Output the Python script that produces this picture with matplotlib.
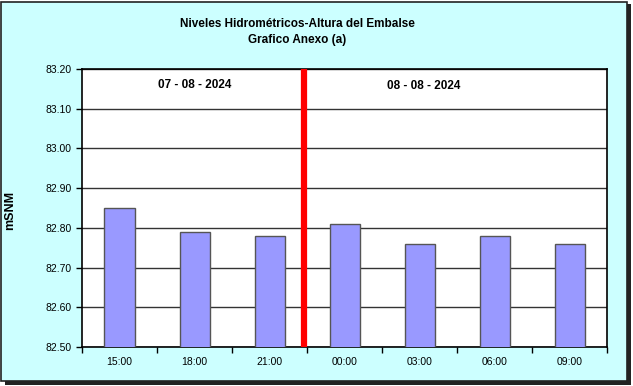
import numpy as np
import matplotlib
matplotlib.use("Agg")
import matplotlib.pyplot as plt
from matplotlib.patches import Rectangle

# data
horas = ["15:00", "18:00", "21:00", "00:00", "03:00", "06:00", "09:00"]
niveles = [82.85, 82.79, 82.78, 82.81, 82.76, 82.78, 82.76]
fechas = ["07 - 08 - 2024", "08 - 08 - 2024"]
y_ticks = [82.50, 82.60, 82.70, 82.80, 82.90, 83.00, 83.10, 83.20]

plt.rcParams['font.family'] = ['Liberation Sans', 'DejaVu Sans']

W, H = 633, 386
fig = plt.figure(figsize=(W / 100, H / 100), dpi=100)
fig.patch.set_facecolor("white")

# background frame with shadow
fig.patches.append(Rectangle((5 / W, 1 - 385 / H), 626 / W, 381 / H, transform=fig.transFigure,
                             facecolor="#222222", edgecolor="none", zorder=0))
fig.patches.append(Rectangle((1 / W, 1 - 381 / H), 626 / W, 379 / H, transform=fig.transFigure,
                             facecolor="#CCFFFF", edgecolor="#222222", linewidth=1.2, zorder=1))

ax = fig.add_axes([82 / W, 1 - 347 / H, (607 - 82) / W, (347 - 69) / H])
ax.set_facecolor("white")
ax.set_zorder(2)

x = np.arange(len(horas))
ax.bar(x, niveles, width=0.4, color="#9999FF", edgecolor="#555555", linewidth=1.0, zorder=3)

ax.set_xlim(-0.5, len(horas) - 0.5)
ax.set_ylim(y_ticks[0], y_ticks[-1])
ax.set_yticks(y_ticks)
ax.set_yticklabels([f"{v:.2f}" for v in y_ticks], fontsize=7.5)
ax.yaxis.grid(True, color="#333333", linewidth=1.0, zorder=1)
ax.set_axisbelow(True)

ax.set_xticks(x)
ax.set_xticklabels(horas, fontsize=7.5)
ax.set_xticks(np.arange(len(horas) + 1) - 0.5, minor=True)
ax.tick_params(axis="x", which="major", length=0, pad=7)
ax.tick_params(axis="x", which="minor", length=4, direction="out", width=1)
ax.tick_params(axis="y", length=4, direction="out", width=1)

for s in ax.spines.values():
    s.set_color("black")
    s.set_linewidth(1.2)

# day separator
ax.axvline(2.46, color="#FF0000", linewidth=4.5, zorder=4)

ax.text(1.0, 83.16, fechas[0], ha="center", va="center", fontsize=8.5, fontweight="bold")
ax.text(4.05, 83.157, fechas[1], ha="center", va="center", fontsize=8.5, fontweight="bold")

fig.text(10 / W, 1 - 210 / H, "mSNM", rotation=90, ha="center", va="center",
         fontsize=9, fontweight="bold")

fig.text(297 / W, 1 - 24 / H, "Niveles Hidrométricos-Altura del Embalse", ha="center", va="center",
         fontsize=8.5, fontweight="bold")
fig.text(297 / W, 1 - 40 / H, "Grafico Anexo (a)", ha="center", va="center",
         fontsize=8.5, fontweight="bold")

fig.savefig("out.png", dpi=100)
